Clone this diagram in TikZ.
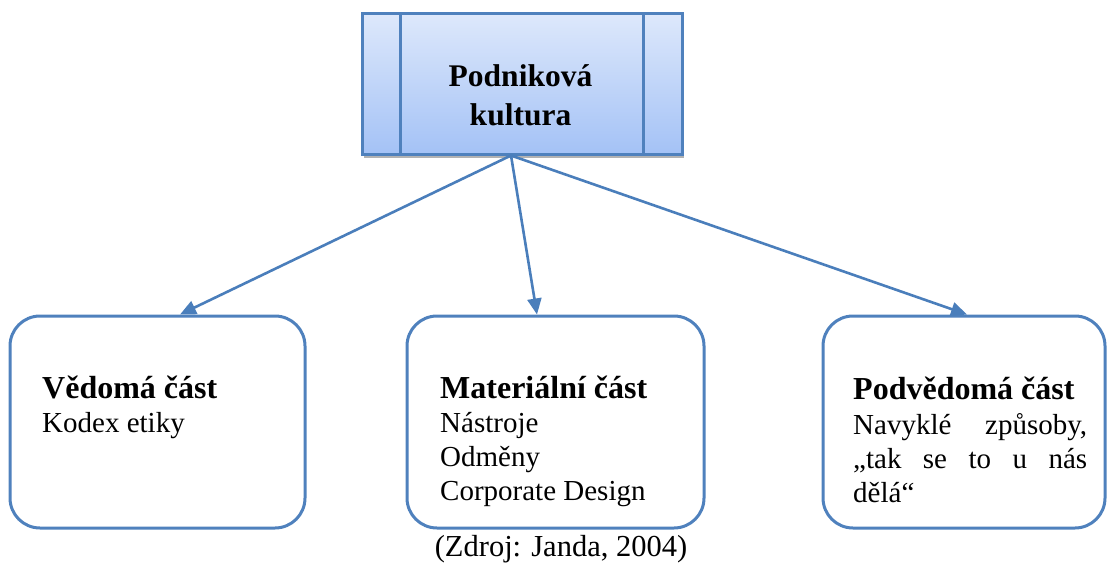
\documentclass[tikz,border=0pt]{standalone}
\usepackage{fontspec}
\setmainfont{Liberation Serif}
\usetikzlibrary{arrows.meta,shadows}
\definecolor{edge}{HTML}{4F81BD}
\definecolor{arrowc}{HTML}{4A7EBB}
\definecolor{gtop}{HTML}{DDE8FB}
\definecolor{gbot}{HTML}{A4C2F6}
\tikzset{
  topbox/.style={draw=edge, line width=3pt, top color=gtop, bottom color=gbot,
    minimum width=320pt, minimum height=140pt, inner sep=0pt,
    drop shadow={shadow xshift=2pt, shadow yshift=-3.5pt, fill=black, opacity=0.3}},
  partbox/.style={draw=edge, line width=3pt, rounded corners=30pt, fill=white,
    minimum height=212pt, inner sep=0pt},
  arr/.style={draw=arrowc, line width=2.6pt, -{Triangle[length=16pt,width=14pt]}},
  titletxt/.style={font=\fontsize{31.5}{38}\selectfont\bfseries, anchor=base, inner sep=0pt},
  boldtxt/.style={font=\fontsize{32}{36}\selectfont\bfseries, anchor=base west, inner sep=0pt},
  regtxt/.style={font=\fontsize{29}{34}\selectfont, anchor=base west, inner sep=0pt},
}
\begin{document}
\begin{tikzpicture}[x=1pt,y=-1pt]
\useasboundingbox (0,0) rectangle (1107,567);
% top box
\node[topbox] (top) at (522,84) {};
\draw[edge, line width=2.4pt] ([xshift=40pt]top.north west) -- ([xshift=40pt]top.south west);
\draw[edge, line width=2.4pt] ([xshift=-40pt]top.north east) -- ([xshift=-40pt]top.south east);
\node[titletxt] (t1) at (520.5,87) {Podniková};
\node[titletxt] (t2) at (520.5,125) {kultura};
% part boxes
\node[partbox, minimum width=295pt] (left) at (157.5,422) {};
\node[partbox, minimum width=297pt] (mid) at (555.5,422) {};
\node[partbox, minimum width=282pt] (right) at (964,422) {};
% arrows
\coordinate (o) at ([xshift=-11pt]top.south);
\draw[arr] (o) -- ([xshift=22.5pt]left.north);
\draw[arr] (o) -- ([xshift=-18.5pt]mid.north);
\draw[arr] (o) -- ([xshift=3pt]right.north);
% texts
\node[boldtxt] (l1) at (42,398) {Vědomá část};
\node[regtxt] (l2) at (42,432) {Kodex etiky};
\node[boldtxt] (m1) at (440,398) {Materiální část};
\node[regtxt] (m2) at (440,432) {Nástroje};
\node[regtxt] (m3) at (440,466) {Odměny};
\node[regtxt] (m4) at (440,500) {Corporate Design};
\node[boldtxt] (r1) at (853,399) {Podvědomá část};
\node[regtxt] (r2) at (853,434) {\makebox[234pt][s]{Navyklé způsoby,}};
\node[regtxt] (r3) at (853,468) {\makebox[234pt][s]{„tak se to u nás}};
\node[regtxt] (r4) at (853,502) {dělá“};
\node[font=\fontsize{30.5}{34}\selectfont, anchor=base, inner sep=0pt] (cap) at (561,556) {(Zdroj: Janda, 2004)};
\end{tikzpicture}
\end{document}
